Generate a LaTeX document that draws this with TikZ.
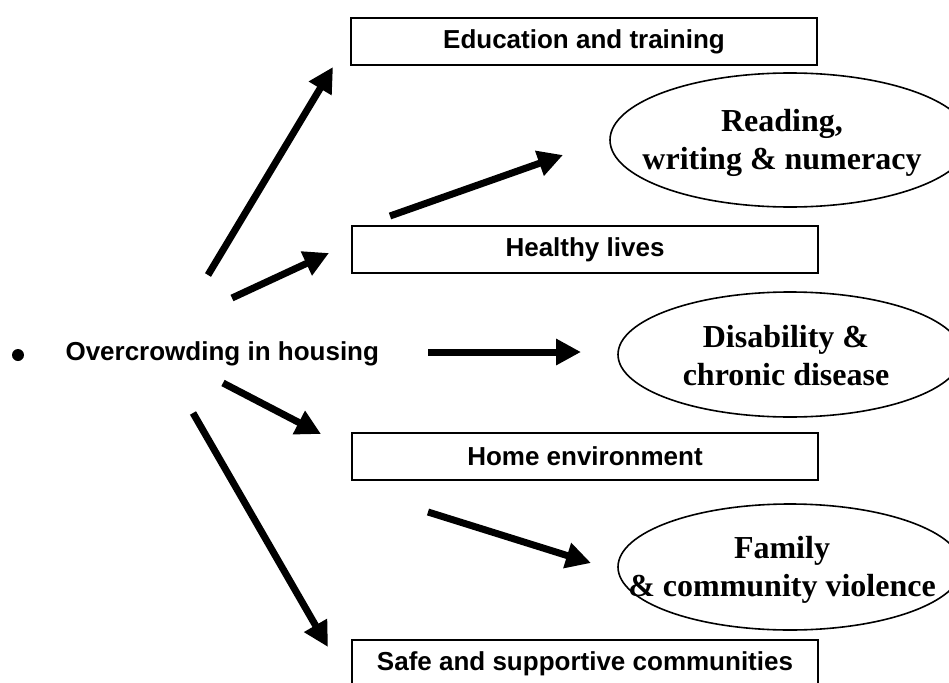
\documentclass[tikz,border=0pt]{standalone}
\usepackage{fontspec}
\setmainfont{Liberation Serif}
\setsansfont{Liberation Sans}
\usetikzlibrary{shapes.geometric,arrows.meta}

\tikzset{
  outcome/.style={draw, line width=1.6pt, minimum width=466pt, minimum height=47pt,
    inner sep=0pt, font=\sffamily\bfseries\fontsize{26}{30}\selectfont},
  effect/.style={draw, ellipse, line width=1.6pt, inner sep=0pt},
  effecttext/.style={align=center, inner sep=0pt, font=\bfseries\fontsize{32}{38}\selectfont},
  bigarrow/.style={line width=7pt, -{Triangle[length=25pt,width=25pt]}}
}

\begin{document}
\begin{tikzpicture}[x=1pt, y=-1pt]
    \useasboundingbox (0,0) rectangle (949,682);
    \clip (0,0) rectangle (949,682);

    % boxes on the right
    \node[outcome] (edu)    at (584,41.5)  {Education and training};
    \node[outcome] (health) at (585,249.5) {Healthy lives};
    \node[outcome] (home)   at (585,456.5) {Home environment};
    \node[outcome, anchor=north] (safe) at (585,639) {};
    \node[font=\sffamily\bfseries\fontsize{26}{30}\selectfont] (safetext) at (585,664) {Safe and supportive communities};

    % ellipses
    \node[effect, minimum width=360pt, minimum height=134pt] (read) at (790,140) {};
    \node[effect, minimum width=344pt, minimum height=125pt] (dis)  at (790,354.5) {};
    \node[effect, minimum width=344pt, minimum height=126pt] (fam)  at (790,567) {};
    \node[effecttext] (readtext) at (782,143) {Reading,\\writing \& numeracy};
    \node[effecttext] (distext)  at (786,356) {Disability \&\\chronic disease};
    \node[effecttext] (famtext)  at (782,570) {Family\\\& community violence};

    % source
    \node[circle, fill, inner sep=0pt, minimum size=12pt] (dot) at (18,355) {};
    \node[anchor=west, font=\sffamily\bfseries\fontsize{26}{30}\selectfont] (crowd) at (62,354) {Overcrowding in housing};

    % arrow ends
    \coordinate (a1) at (208,275);  \coordinate (b1) at (333,67);
    \coordinate (a2) at (232,298);  \coordinate (b2) at (329,253);
    \coordinate (a3) at (390,216);  \coordinate (b3) at (563,155);
    \coordinate (a4) at (428,352);  \coordinate (b4) at (581,352);
    \coordinate (a5) at (223,383);  \coordinate (b5) at (321,434);
    \coordinate (a6) at (428,512);  \coordinate (b6) at (591,563);
    \coordinate (a7) at (193,413);  \coordinate (b7) at (328,647);

    \foreach \i in {1,...,7}
      \draw[bigarrow] (a\i) -- (b\i);
\end{tikzpicture}
\end{document}
